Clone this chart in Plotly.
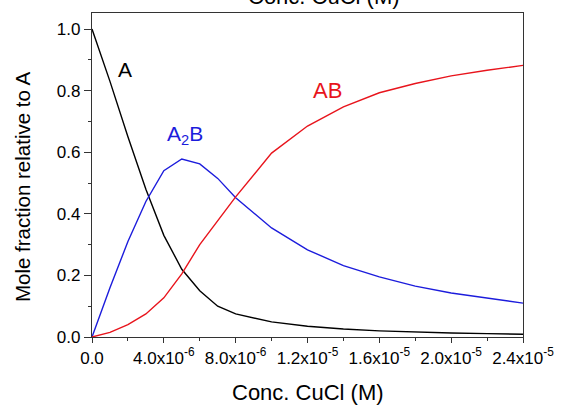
import plotly.graph_objects as go

conc = [0, 1e-6, 2e-6, 3e-6, 4e-6, 5e-6, 6e-6, 7e-6, 8e-6, 10e-6, 12e-6, 14e-6, 16e-6, 18e-6, 20e-6, 22e-6, 24e-6]
frac_A = [1.0, 0.83, 0.65, 0.48, 0.33, 0.22, 0.15, 0.10, 0.075, 0.049, 0.035, 0.026, 0.02, 0.016, 0.013, 0.011, 0.009]
frac_A2B = [0.0, 0.16, 0.31, 0.44, 0.54, 0.578, 0.562, 0.515, 0.452, 0.354, 0.283, 0.232, 0.195, 0.165, 0.143, 0.126, 0.11]
frac_AB = [0.0, 0.015, 0.04, 0.075, 0.127, 0.205, 0.30, 0.378, 0.455, 0.597, 0.685, 0.747, 0.793, 0.823, 0.848, 0.866, 0.882]

xtick_vals = [0, 4e-6, 8e-6, 1.2e-5, 1.6e-5, 2.0e-5, 2.4e-5]
xtick_text = ["0.0", "4.0x10<sup>-6</sup>", "8.0x10<sup>-6</sup>", "1.2x10<sup>-5</sup>",
              "1.6x10<sup>-5</sup>", "2.0x10<sup>-5</sup>", "2.4x10<sup>-5</sup>"]
ytick_vals = [0.0, 0.2, 0.4, 0.6, 0.8, 1.0]
ytick_text = ["0.0", "0.2", "0.4", "0.6", "0.8", "1.0"]

BLACK = "#000000"
RED = "#e8141c"
BLUE = "#1c1cdc"
FONT = "Liberation Sans, Arial, sans-serif"

fig = go.Figure()
fig.add_trace(go.Scatter(x=conc, y=frac_A, mode="lines", line=dict(color=BLACK, width=1.4), name="A"))
fig.add_trace(go.Scatter(x=conc, y=frac_A2B, mode="lines", line=dict(color=BLUE, width=1.4), name="A2B"))
fig.add_trace(go.Scatter(x=conc, y=frac_AB, mode="lines", line=dict(color=RED, width=1.4), name="AB"))

fig.add_annotation(x=1.81e-6, y=0.867, text="A", showarrow=False, font=dict(family=FONT, size=21, color=BLACK))
fig.add_annotation(x=5.2e-6, y=0.655, text="A<sub>2</sub>B", showarrow=False, font=dict(family=FONT, size=21, color=BLUE))
fig.add_annotation(x=1.31e-5, y=0.80, text="AB", showarrow=False, font=dict(family=FONT, size=22, color=RED))
# top axis title (mostly cut off at the top edge)
fig.add_annotation(xref="paper", yref="paper", x=0.538, y=1.005, xanchor="center", yanchor="bottom",
                   text="Conc. CuCl (M)", showarrow=False, font=dict(family=FONT, size=22, color=BLACK))
# bottom axis title
fig.add_annotation(xref="paper", yref="paper", x=0.5, y=-0.171, xanchor="center", yanchor="middle",
                   text="Conc. CuCl (M)", showarrow=False, font=dict(family=FONT, size=22, color=BLACK))
# left axis title
fig.add_annotation(xref="paper", yref="paper", x=-0.16, y=0.463, xanchor="center", yanchor="middle",
                   textangle=-90, text="Mole fraction relative to A", showarrow=False,
                   font=dict(family=FONT, size=20.5, color=BLACK))

fig.update_layout(
    width=566, height=406,
    margin=dict(l=92, r=36, t=13, b=69),
    paper_bgcolor="white", plot_bgcolor="white",
    showlegend=False,
    font=dict(family=FONT, color=BLACK),
    xaxis=dict(range=[0, 2.4e-5], tickvals=xtick_vals, ticktext=xtick_text,
               ticks="outside", ticklen=5, tickwidth=1, tickcolor="#333",
               minor=dict(ticks="outside", ticklen=3, dtick=2e-6, tick0=0, tickcolor="#333"),
               showline=True, linecolor="#333", linewidth=1.2, mirror=True,
               showgrid=False, zeroline=False, tickfont=dict(size=17, family=FONT)),
    yaxis=dict(range=[0, 1.052], tickvals=ytick_vals, ticktext=ytick_text,
               ticks="outside", ticklen=7, tickwidth=1, tickcolor="#333",
               minor=dict(ticks="outside", ticklen=3, dtick=0.1, tick0=0, tickcolor="#333"),
               showline=True, linecolor="#333", linewidth=1.2, mirror=True,
               showgrid=False, zeroline=False, tickfont=dict(size=17, family=FONT)),
)

fig.write_html("out.html")
